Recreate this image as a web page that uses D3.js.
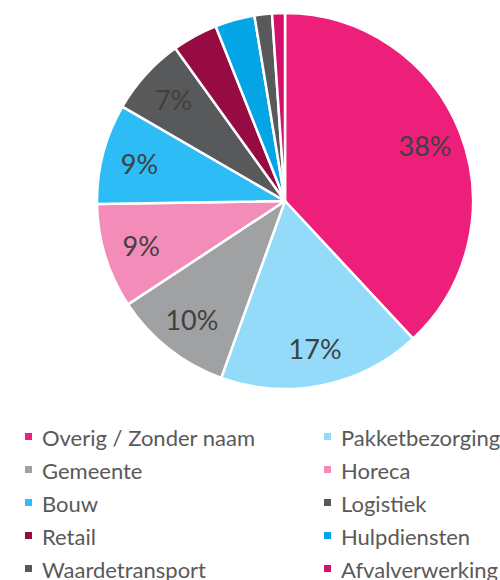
<!DOCTYPE html>
<html>
<head>
<meta charset="utf-8">
<script src="https://cdn.jsdelivr.net/npm/d3@7"></script>
<style>
  html, body { margin: 0; padding: 0; background: #fff; overflow: hidden; }
  svg { display: block; font-family: Lato, "Open Sans", sans-serif; }
</style>
</head>
<body>
<div id="chart"></div>
<script>
// categories + shares (percent)
const categories = [
  "Overig / Zonder naam", "Pakketbezorging", "Gemeente", "Horeca", "Bouw",
  "Logistiek", "Retail", "Hulpdiensten", "Waardetransport", "Afvalverwerking"
];
const shares = [38.0, 17.4, 10.2, 9.0, 8.6, 6.7, 3.9, 3.4, 1.5, 1.1];
const colors = [
  "#ee1f7b", "#93dbf9", "#a0a1a3", "#f48cba", "#2ebcf6",
  "#58595b", "#970b43", "#04a5e6", "#58595b", "#d50f6c"
];

const width = 500, height = 580;
const cx = 285, cy = 201, radius = 188;

const svg = d3.select("#chart").append("svg")
  .attr("width", width)
  .attr("height", height);

const data = categories.map((name, i) => ({ name, value: shares[i], color: colors[i] }));

//#region pie
const pie = d3.pie().value(d => d.value).sort(null);
const arc = d3.arc().innerRadius(0).outerRadius(radius);
const labelArc = d3.arc().innerRadius(radius * 0.8).outerRadius(radius * 0.8);

const g = svg.append("g").attr("transform", `translate(${cx},${cy})`);
const arcs = pie(data);

g.selectAll("path")
  .data(arcs)
  .enter()
  .append("path")
  .attr("d", arc)
  .attr("fill", d => d.data.color)
  .attr("stroke", "#fff")
  .attr("stroke-width", 2.5)
  .attr("stroke-linejoin", "round");

g.selectAll("text")
  .data(arcs.filter(d => d.data.value >= 5))
  .enter()
  .append("text")
  .attr("transform", d => `translate(${labelArc.centroid(d)})`)
  .attr("text-anchor", "middle")
  .attr("dominant-baseline", "central")
  .style("font-size", "27px")
  .style("fill", "#404040")
  .text(d => Math.round(d.data.value) + "%");
//#endregion

//#region legend
const legend = svg.append("g");
const item = legend.selectAll("g")
  .data(data)
  .enter()
  .append("g")
  .attr("transform", (d, i) => `translate(${i % 2 ? 324 : 25}, ${437 + Math.floor(i / 2) * 33})`);

item.append("rect")
  .attr("x", 0).attr("y", -4)
  .attr("width", 7).attr("height", 7)
  .attr("fill", d => d.color);

item.append("text")
  .attr("x", 17)
  .attr("dominant-baseline", "central")
  .style("font-size", "22px")
  .style("fill", "#595959")
  .text(d => d.name);
//#endregion
</script>
</body>
</html>
